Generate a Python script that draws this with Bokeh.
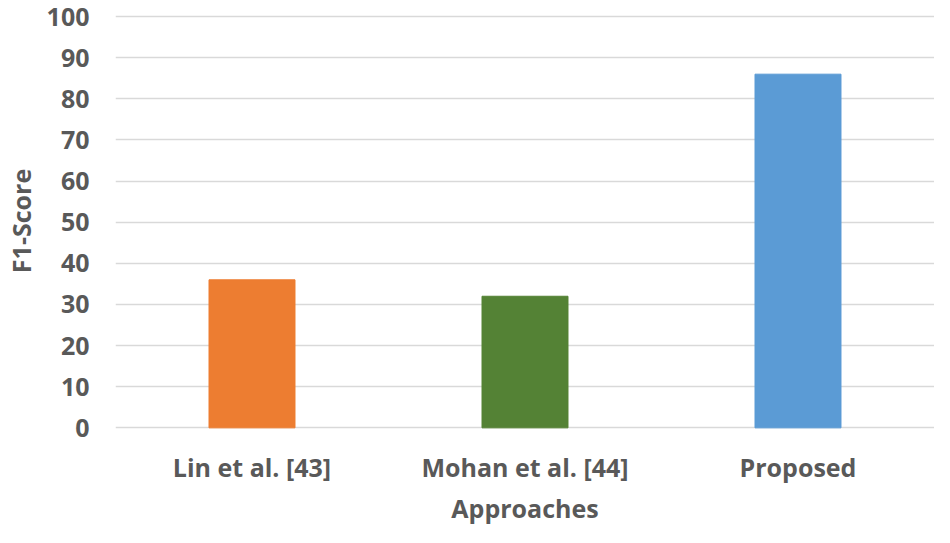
from bokeh.plotting import figure
from bokeh.models import Range1d, ColumnDataSource, SingleIntervalTicker
from bokeh.embed import file_html
from bokeh.resources import INLINE

categories = ["Lin et al. [43]", "Mohan et al. [44]", "Proposed"]
f1_scores = [36, 32, 86]
bar_colors = ["#ED7D31", "#548235", "#5B9BD5"]

src = ColumnDataSource(dict(cat=categories, val=f1_scores, color=bar_colors))

p = figure(x_range=categories, y_range=Range1d(-0.4, 101), width=934, height=527,
           output_backend="svg", toolbar_location=None,
           min_border_left=113, min_border_right=0, min_border_top=12, min_border_bottom=93)
p.vbar(x="cat", top="val", width=0.315, color="color", source=src)

p.outline_line_color = None
p.xgrid.grid_line_color = None
p.ygrid.grid_line_color = "#D9D9D9"
p.ygrid.grid_line_width = 1.5
p.yaxis.ticker = SingleIntervalTicker(interval=10)

font = "Open Sans"
for ax in (p.xaxis, p.yaxis):
    ax.axis_line_color = None
    ax.major_tick_line_color = None
    ax.minor_tick_line_color = None
    ax.major_tick_out = 0
    ax.major_tick_in = 0
    ax.major_label_text_font = font
    ax.major_label_text_font_style = "bold"
    ax.major_label_text_color = "#595959"
    ax.major_label_text_font_size = "25px"
    ax.axis_label_text_font = font
    ax.axis_label_text_font_style = "bold"
    ax.axis_label_text_color = "#595959"
    ax.axis_label_text_font_size = "25px"

p.yaxis.major_label_standoff = 22
p.xaxis.major_label_standoff = 20
p.xaxis.axis_label = "Approaches"
p.yaxis.axis_label = "F1-Score"
p.xaxis.axis_label_standoff = 4
p.yaxis.axis_label_standoff = 6

open("out.html", "w").write(file_html(p, INLINE))
